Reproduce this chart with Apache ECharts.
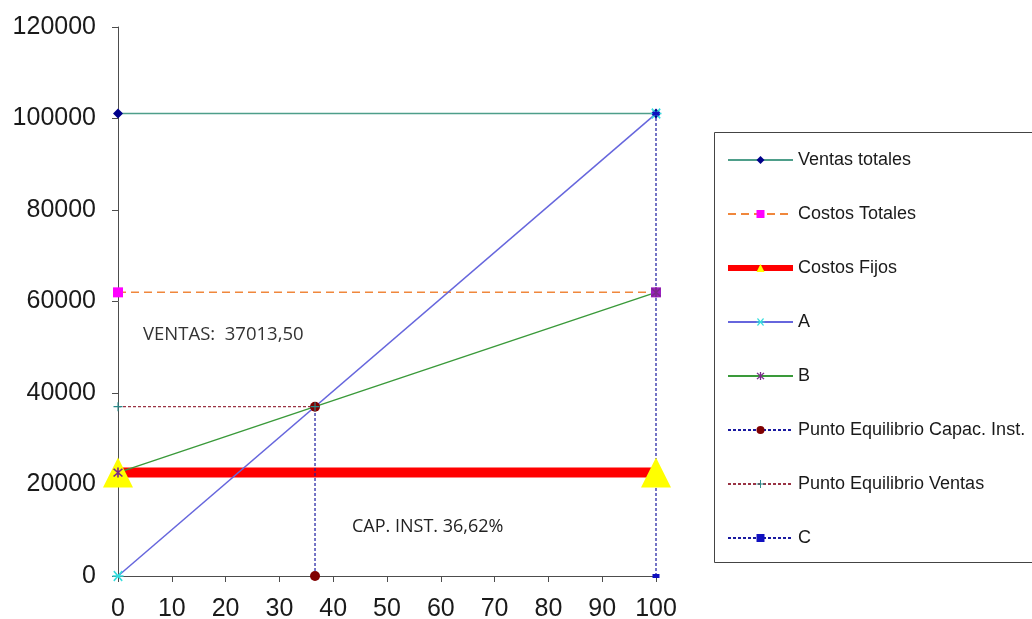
<!DOCTYPE html>
<html>
<head>
<meta charset="utf-8">
<script src="https://cdn.jsdelivr.net/npm/echarts@6/dist/echarts.min.js"></script>
<style>html,body{margin:0;padding:0;background:#fff;}#c{width:1032px;height:619px;}</style>
</head>
<body>
<div id="c"></div>
<script>
// ---- data ----
const capX = [0, 100];
const ventasTotales = [101070, 101070];
const costosTotales = [62000, 62000];
const costosFijos = [22600, 22600];
const lineaA = [0, 101070];
const lineaB = [22600, 62000];
const peCapacX = [36.62, 36.62];
const peCapacY = [0, 37013.5];
const peVentasX = [0, 36.62];
const peVentasY = [37013.5, 37013.5];
const cX = [100, 100];
const cY = [0, 101070];
const seriesNames = ['Ventas totales', 'Costos Totales', 'Costos Fijos', 'A', 'B',
  'Punto Equilibrio Capac. Inst.', 'Punto Equilibrio Ventas', 'C'];
const ventasText = 'VENTAS:  37013,50';
const capText = 'CAP. INST. 36,62%';

const pair = (xs, ys) => xs.map((x, i) => [x, ys[i]]);

const starPath = 'path://M-0.7,-5L0.7,-5L0.7,5L-0.7,5Z M-4.3,-3.3L-3.3,-4.3L4.3,3.3L3.3,4.3Z M3.3,-4.3L4.3,-3.3L-3.3,4.3L-4.3,3.3Z';
const xPath = 'path://M-4.3,-3.3L-3.3,-4.3L4.3,3.3L3.3,4.3Z M3.3,-4.3L4.3,-3.3L-3.3,4.3L-4.3,3.3Z M-5,-0.6L5,-0.6L5,0.6L-5,0.6Z';
const plusPath = 'path://M-0.6,-5L0.6,-5L0.6,5L-0.6,5Z M-5,-0.6L5,-0.6L5,0.6L-5,0.6Z';

const chart = echarts.init(document.getElementById('c'), null, {renderer: 'canvas'});
const axisFont = {fontFamily: 'Liberation Sans', fontSize: 25, color: '#1a1a1a'};

function mk(name, data, color, width, type, symbol, symbolSize, symColor) {
  return {
    name, type: 'line', data, clip: false, animation: false,
    lineStyle: {color, width, type},
    itemStyle: {color: symColor, borderWidth: 0},
    symbol, symbolSize, showSymbol: true,
    emphasis: {disabled: true}
  };
}

const legendData = seriesNames.map((n, i) => i === 2 ? {name: n, lineStyle: {width: 6}} : {name: n});

const option = {
  backgroundColor: '#fff',
  animation: false,
  grid: {left: 118, right: 376, top: 27, bottom: 43, containLabel: false, outerBoundsMode: 'none'},
  xAxis: {
    type: 'value', min: 0, max: 100, interval: 10,
    axisLine: {show: true, lineStyle: {color: '#4d4d4d', width: 1}},
    axisTick: {show: true, length: 6, lineStyle: {color: '#4d4d4d'}},
    axisLabel: Object.assign({margin: 21}, axisFont),
    splitLine: {show: false}
  },
  yAxis: {
    type: 'value', min: 0, max: 120000, interval: 20000,
    axisLine: {show: true, lineStyle: {color: '#4d4d4d', width: 1}},
    axisTick: {show: true, length: 6, lineStyle: {color: '#4d4d4d'}},
    axisLabel: Object.assign({margin: 22, formatter: v => String(v)}, axisFont),
    splitLine: {show: false}
  },
  legend: {
    orient: 'vertical', left: 720, top: 145,
    itemWidth: 65, itemHeight: 10, itemGap: 34,
    textStyle: {fontFamily: 'Liberation Sans', fontSize: 18, color: '#1a1a1a', lineHeight: 20},
    data: legendData,
    selectedMode: false
  },
  graphic: [
    {type: 'rect', shape: {x: 714.5, y: 132.5, width: 330, height: 430}, style: {fill: 'none', stroke: '#444', lineWidth: 1}, silent: true},
    {type: 'text', left: 143, top: 325, style: {text: ventasText, font: '18.5px "Open Sans"', fill: '#333'}},
    {type: 'text', left: 352, top: 518, style: {text: capText, font: '18px "Open Sans"', fill: '#222'}}
  ],
  series: [
    mk(seriesNames[0], pair(capX, ventasTotales), '#4e9e8a', 1.5, 'solid', 'diamond', 10, '#00008b'),
    mk(seriesNames[1], pair(capX, costosTotales), '#f0873c', 1.5, [8, 5], 'rect', 10, '#ff00ff'),
    mk(seriesNames[2], pair(capX, costosFijos), '#ff0000', 10, 'solid', 'triangle', 30, '#ffff00'),
    mk(seriesNames[3], pair(capX, lineaA), '#6666dd', 1.5, 'solid', xPath, 11, '#33dddd'),
    mk(seriesNames[4], pair(capX, lineaB), '#3a9a3a', 1.5, 'solid', starPath, 10, '#7b2a8a'),
    mk(seriesNames[5], pair(peCapacX, peCapacY), '#1a1aa0', 1.2, [3, 2], 'circle', 10, '#800000'),
    mk(seriesNames[6], pair(peVentasX, peVentasY), '#993344', 1.2, [3, 2], plusPath, 9, '#2a8a8a'),
    mk(seriesNames[7], pair(cX, cY), '#1a1aa0', 1.2, [3, 2], 'rect', [7, 4], '#1010c0')
  ]
};
// second Costos Totales marker appears purple in the reference
option.series[1].data = option.series[1].data.map((d, i) => i === 1 ? {value: d, itemStyle: {color: '#9a1fc0'}} : d);
chart.setOption(option);
</script>
</body>
</html>
